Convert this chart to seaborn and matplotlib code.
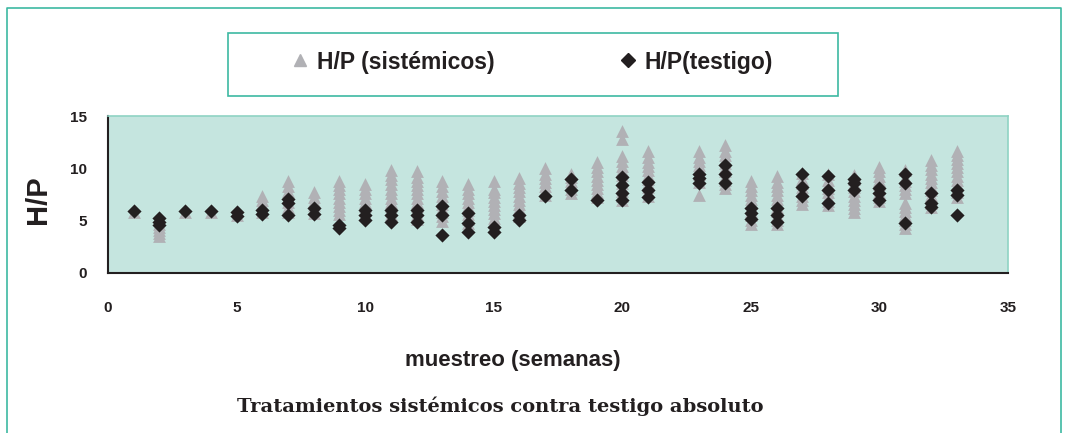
import matplotlib
matplotlib.use("Agg")
import matplotlib.pyplot as plt
from matplotlib.lines import Line2D
from matplotlib.patches import Rectangle
import seaborn as sns
import pandas as pd

# ---- data ----
semanas = [1, 2, 3, 4, 5, 6, 7, 8, 9, 10, 11, 12, 13, 14, 15, 16, 17, 18, 19, 20,
           21, 23, 24, 25, 26, 27, 28, 29, 30, 31, 32, 33]

hp_sistemicos = [
    [5.8],
    [3.5, 3.8, 4.1, 4.4, 4.7],
    [5.8],
    [5.8],
    [5.5],
    [5.8, 6.2, 6.6, 7.0, 7.4],
    [5.8, 6.3, 6.8, 7.3, 7.8, 8.3, 8.8],
    [5.7, 6.1, 6.5, 6.9, 7.3, 7.7],
    [5.6, 6.0, 6.4, 6.8, 7.2, 7.6, 8.0, 8.4, 8.8],
    [5.6, 6.0, 6.4, 6.8, 7.2, 7.6, 8.0, 8.5],
    [5.6, 6.0, 6.4, 6.8, 7.2, 7.6, 8.0, 8.5, 9.0, 9.4, 9.8],
    [5.2, 5.6, 6.0, 6.4, 6.8, 7.2, 7.6, 8.0, 8.4, 8.8, 9.2, 9.7],
    [5.0, 5.4, 5.8, 6.2, 6.6, 7.0, 7.4, 7.8, 8.3, 8.8],
    [4.8, 5.2, 5.6, 6.0, 6.4, 6.8, 7.2, 7.6, 8.0, 8.5],
    [4.5, 4.9, 5.3, 5.7, 6.1, 6.5, 6.9, 7.3, 7.7, 8.0, 8.8],
    [5.4, 5.8, 6.2, 6.6, 7.0, 7.4, 7.8, 8.2, 8.6, 9.1],
    [7.5, 7.9, 8.3, 8.7, 9.1, 9.5, 10.0],
    [7.6, 8.0, 8.4, 8.8, 9.2, 9.5],
    [7.3, 7.7, 8.1, 8.5, 8.9, 9.3, 9.7, 10.1, 10.6],
    [7.0, 7.4, 7.8, 8.2, 8.6, 9.0, 9.4, 9.8, 10.2, 10.7, 11.2, 12.8, 13.6],
    [7.4, 7.8, 8.2, 8.6, 9.0, 9.4, 9.8, 10.2, 10.6, 11.1, 11.7],
    [7.5, 8.7, 9.1, 9.5, 9.9, 10.3, 10.7, 11.1, 11.7],
    [8.1, 8.5, 8.9, 9.3, 9.7, 10.1, 10.5, 10.9, 11.3, 11.7, 12.2],
    [4.7, 5.1, 5.5, 5.9, 6.3, 6.7, 7.1, 7.5, 7.9, 8.3, 8.8],
    [4.7, 5.1, 5.5, 5.9, 6.3, 6.7, 7.1, 7.5, 7.9, 8.3, 8.7, 9.3],
    [6.6, 7.0, 7.4, 7.8, 8.2, 8.6, 9.0, 9.6],
    [6.5, 6.9, 7.3, 7.7, 8.1, 8.5, 8.9, 9.5],
    [5.8, 6.2, 6.6, 7.0, 7.4, 7.8, 8.2, 8.6, 9.0, 9.4],
    [6.9, 7.3, 7.7, 8.1, 8.5, 8.9, 9.3, 9.7, 10.1],
    [4.3, 4.7, 5.1, 5.5, 5.9, 6.3, 6.7, 7.6, 8.0, 8.4, 8.8, 9.2, 9.8],
    [6.3, 6.7, 7.1, 7.5, 7.9, 8.3, 8.7, 9.1, 9.5, 9.9, 10.3, 10.8],
    [7.3, 7.7, 8.1, 8.5, 8.9, 9.3, 9.7, 10.1, 10.5, 10.9, 11.3, 11.7],
]

hp_testigo = [
    [5.9],
    [4.6, 4.9, 5.3],
    [5.9],
    [5.9],
    [5.4, 5.8],
    [5.6, 6.0],
    [5.5, 6.7, 7.1],
    [5.6, 6.2],
    [4.3, 4.6],
    [5.1, 5.5, 6.0],
    [4.9, 5.5, 6.0],
    [4.9, 5.5, 6.0],
    [3.6, 5.5, 6.4],
    [3.9, 4.8, 5.7],
    [3.9, 4.4],
    [5.1, 5.5],
    [7.4],
    [7.9, 9.0],
    [7.0],
    [7.0, 7.6, 8.4, 9.2],
    [7.3, 7.9, 8.7],
    [8.6, 9.1, 9.5],
    [8.6, 9.5, 10.3],
    [5.2, 5.7, 6.2],
    [4.9, 5.5, 6.2],
    [7.4, 8.2, 9.5],
    [6.7, 7.9, 9.3],
    [7.9, 8.6, 9.0],
    [7.0, 7.6, 8.1],
    [4.8, 8.6, 9.5],
    [6.3, 6.7, 7.6],
    [5.5, 7.5, 7.9],
]

serie_labels = ["H/P (sistémicos)", "H/P(testigo)"]
x_ticks = [0, 5, 10, 15, 20, 25, 30, 35]
y_ticks = [0, 5, 10, 15]

# ---- build long table ----
rows = []
for lab, series in zip(serie_labels, [hp_sistemicos, hp_testigo]):
    for w, vals in zip(semanas, series):
        for v in vals:
            rows.append({"semana": w, "hp": v, "serie": lab})
df = pd.DataFrame(rows)

# ---- style ----
sns.set_theme(style="white")
plt.rcParams["font.family"] = ["Liberation Sans", "DejaVu Sans"]

BG = "#C5E5DF"
TRI = "#B1B1B5"
DIA = "#231F20"
TEAL = "#3DB9A2"

fig = plt.figure(figsize=(10.67, 4.33), dpi=100)
ax = fig.add_axes([108 / 1067, 1 - 273 / 433, 900 / 1067, 157 / 433])
ax.set_facecolor(BG)

sub_s = df[df["serie"] == serie_labels[0]]
sub_t = df[df["serie"] == serie_labels[1]]
sns.scatterplot(data=sub_s, x="semana", y="hp", color=TRI, marker="^", s=85,
                linewidth=0, ax=ax, legend=False, zorder=3)
sns.scatterplot(data=sub_t, x="semana", y="hp", color=DIA, marker="D", s=52,
                linewidth=0, ax=ax, legend=False, zorder=4)

ax.set_xlim(0, 35)
ax.set_ylim(0, 15)
ax.set_xticks(x_ticks)
ax.set_yticks(y_ticks)
ax.set_xticklabels([str(t) for t in x_ticks], fontsize=11, fontweight="bold", color="#231F20")
ax.set_yticklabels([str(t) for t in y_ticks], fontsize=11, fontweight="bold", color="#231F20")
ax.tick_params(axis="both", direction="out", length=6, width=1.2, color="#231F20")
ax.tick_params(axis="y", pad=9)
ax.tick_params(axis="x", pad=14)

for side in ["left", "bottom"]:
    ax.spines[side].set_color("#231F20")
    ax.spines[side].set_linewidth(1.5)
for side in ["top", "right"]:
    ax.spines[side].set_color("#8FD3C4")
    ax.spines[side].set_linewidth(1.2)

ax.set_xlabel("muestreo (semanas)", fontsize=16, fontweight="bold", color="#231F20")
ax.set_ylabel("H/P", fontsize=21, fontweight="bold", color="#231F20")
ax.yaxis.set_label_coords(-0.062, 0.47)
ax.xaxis.set_label_coords((513 - 108) / 900, -0.49)

fig.text(500 / 1067, 1 - 406 / 433, "Tratamientos sistémicos contra testigo absoluto",
         ha="center", va="center", fontsize=14, fontweight="bold",
         family=["DejaVu Serif"], color="#231F20")

# legend
handles = [
    Line2D([], [], marker="^", color=TRI, linestyle="none", markersize=9),
    Line2D([], [], marker="D", color=DIA, linestyle="none", markersize=7),
]
fig.legend(handles, serie_labels, loc="center", bbox_to_anchor=(531 / 1067, 1 - 62 / 433),
           ncol=2, frameon=False, prop={"size": 16.5, "weight": "bold"},
           columnspacing=5.3, handletextpad=0.25, handlelength=1.0, labelcolor="#231F20")
fig.add_artist(Rectangle((228 / 1067, 1 - 96 / 433), 610 / 1067, 63 / 433,
                         transform=fig.transFigure, fill=False, edgecolor=TEAL, linewidth=1.2))

# outer frame (left, top, right)
fig.add_artist(Line2D([7 / 1067, 7 / 1067, 1061 / 1067, 1061 / 1067],
                      [0, 1 - 8 / 433, 1 - 8 / 433, 0],
                      transform=fig.transFigure, color=TEAL, linewidth=1.2))

fig.savefig("out.png", dpi=100, facecolor="white")
